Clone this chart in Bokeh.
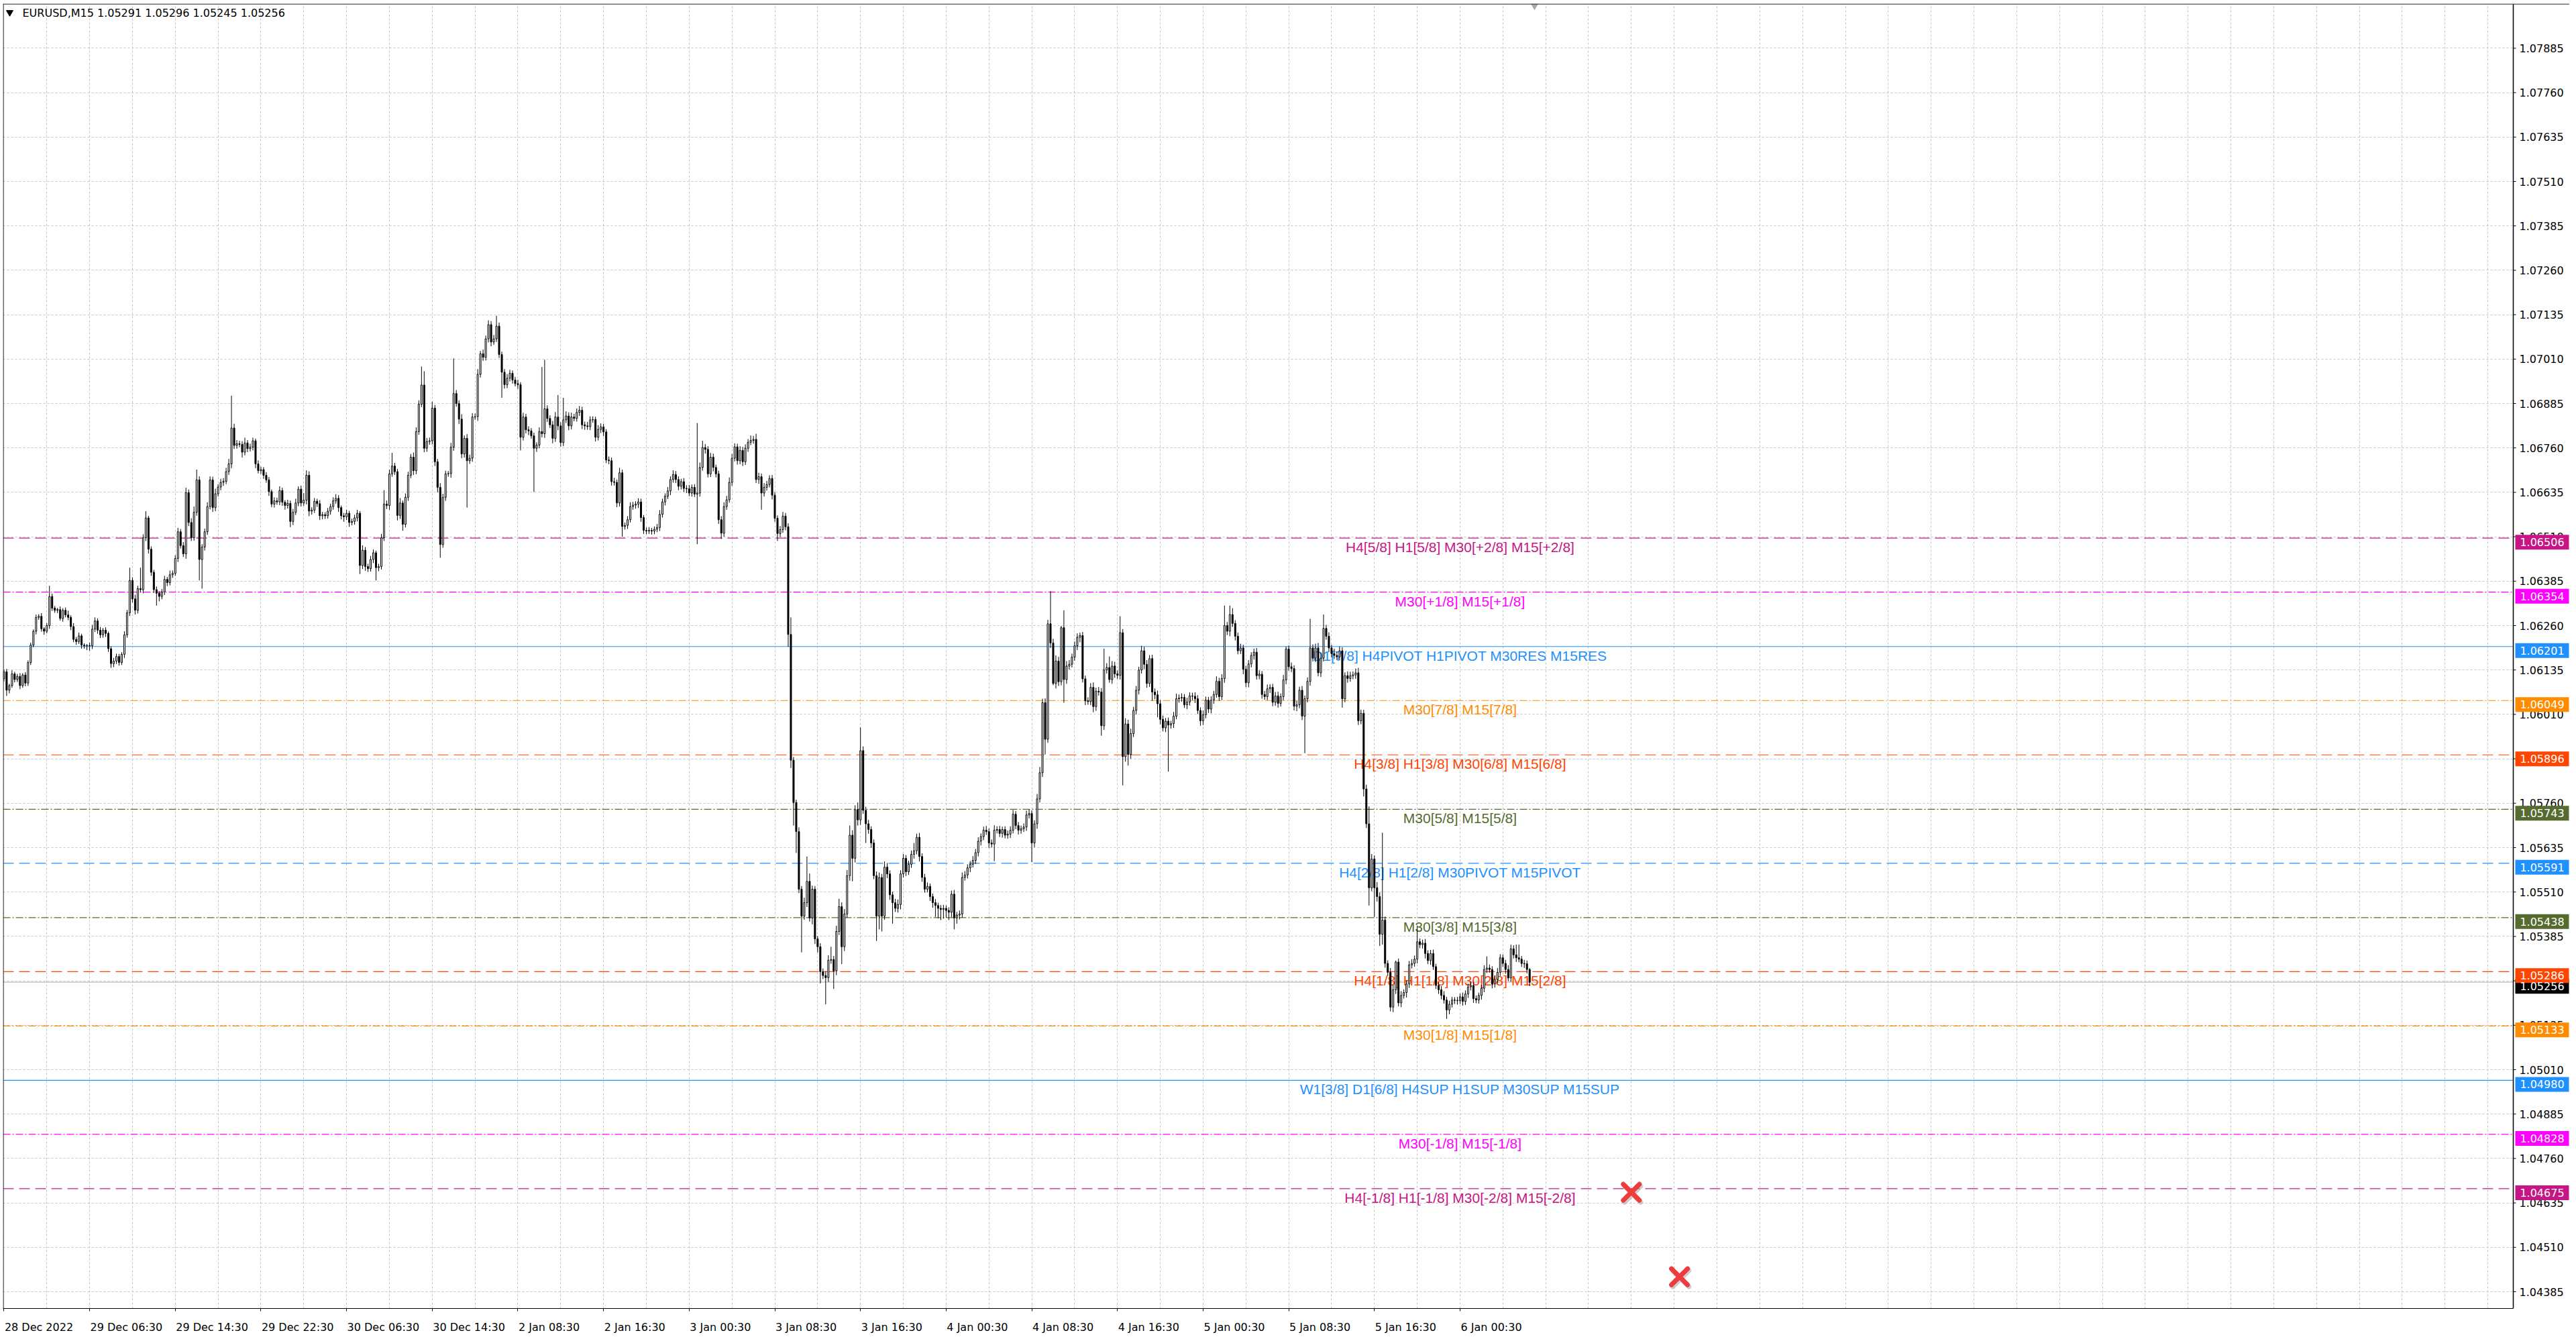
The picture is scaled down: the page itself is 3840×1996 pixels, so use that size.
import numpy as np
from bokeh.plotting import figure
from bokeh.models import ColumnDataSource, Range1d, FixedTicker, Span, Grid
from bokeh.core.properties import value
from bokeh.embed import file_html
from bokeh.resources import INLINE

# ---------------- data ----------------
SYMBOL = "EURUSD,M15"
LAST_OHLC = ["1.05291", "1.05296", "1.05245", "1.05256"]
POINT = 1e-5
BASE = 1.0
FIRST_OPEN = 6110  # points above 1.00000

CLOSE = [
 6130,6078,6091,6124,6108,6117,6091,6121,6098,6156,6205,6244,6283,6286,6251,6244,6260,6342,6309,6303,
 6305,6280,6303,6290,6283,6257,6221,6215,6231,6205,6203,6204,6203,6250,6273,6247,6234,6247,6238,6195,
 6153,6160,6173,6156,6179,6234,6296,6387,6335,6303,6364,6361,6507,6563,6475,6410,6361,6351,6342,6355,
 6390,6381,6403,6407,6449,6524,6485,6462,6634,6550,6507,6579,6670,6446,6481,6524,6595,6670,6592,6631,
 6650,6663,6666,6693,6715,6816,6767,6772,6770,6748,6774,6758,6762,6780,6715,6696,6699,6683,6670,6637,
 6602,6611,6608,6640,6607,6598,6604,6553,6579,6605,6644,6605,6613,6683,6582,6585,6610,6603,6569,6572,
 6569,6582,6595,6611,6618,6592,6569,6566,6576,6550,6553,6563,6576,6429,6472,6426,6420,6446,6465,6423,
 6426,6507,6602,6598,6687,6709,6693,6570,6605,6545,6621,6683,6734,6696,6806,6883,6937,6759,6778,6780,
 6872,6721,6649,6488,6621,6687,6688,6762,6913,6885,6841,6743,6787,6724,6731,6847,6848,6967,7025,7015,
 7067,7107,7058,7067,7103,7023,6973,6938,6956,6970,6951,6941,6938,6790,6847,6811,6808,6794,6759,6768,
 6806,6800,6870,6843,6825,6787,6847,6822,6775,6839,6850,6822,6847,6843,6860,6866,6825,6822,6820,6839,
 6840,6790,6812,6819,6805,6726,6724,6665,6663,6605,6690,6539,6542,6558,6595,6599,6602,6608,6564,6528,
 6526,6528,6526,6531,6536,6573,6608,6624,6639,6671,6685,6671,6652,6665,6646,6645,6633,6649,6630,6633,
 6705,6761,6756,6687,6734,6705,6687,6558,6520,6595,6614,6663,6731,6763,6724,6753,6721,6759,6776,6781,
 6784,6671,6679,6633,6649,6657,6674,6627,6562,6519,6530,6568,6538,6235,5881,5762,5680,5518,5442,5480,
 5540,5437,5518,5378,5356,5286,5275,5269,5318,5320,5288,5399,5469,5356,5448,5556,5670,5605,5742,5713,
 5908,5740,5702,5686,5648,5556,5442,5551,5442,5580,5561,5502,5480,5464,5475,5561,5605,5567,5588,5616,
 5626,5664,5610,5551,5518,5526,5497,5480,5472,5464,5461,5464,5458,5453,5504,5437,5445,5448,5551,5558,
 5578,5588,5599,5621,5653,5666,5684,5680,5648,5645,5684,5686,5675,5686,5670,5673,5684,5729,5697,5684,
 5688,5693,5727,5731,5648,5702,5772,5846,6043,5940,6265,6211,6097,6160,6102,6254,6108,6146,6151,6171,
 6203,6227,6232,6110,6048,6046,6086,6032,6075,6073,5978,6135,6142,6108,6146,6124,6120,6240,5891,5983,
 5897,5956,6021,6078,6135,6189,6151,6097,6167,6073,6065,6040,5996,5972,5991,5980,5984,6005,6054,6056,
 6058,6037,6045,6062,6061,6054,6021,5992,6009,6050,6025,6050,6066,6103,6060,6111,6260,6244,6291,6266,
 6230,6189,6197,6137,6099,6152,6176,6185,6119,6123,6066,6060,6082,6086,6044,6062,6041,6060,6107,6194,
 6144,6139,6033,6037,6078,6005,6054,6103,6197,6168,6197,6127,6168,6252,6230,6197,6181,6176,6172,6189,
 6054,6119,6111,6119,6121,6127,5992,6013,5800,5702,5522,5603,5522,5497,5391,5431,5309,5284,5186,5235,
 5313,5198,5219,5227,5251,5305,5309,5321,5370,5362,5366,5337,5317,5337,5300,5247,5235,5219,5206,5178,
 5194,5206,5205,5204,5215,5202,5223,5243,5247,5210,5206,5219,5239,5292,5296,5292,5251,5264,5284,5325,
 5309,5292,5268,5350,5333,5325,5321,5309,5308,5292,5256,
]

UPPER_WICK = [
 6,8,5,10,6,7,9,5,8,6,7,5,8,6,9,5,7,30,8,6,
 5,9,6,8,12,6,10,7,9,6,5,4,8,12,10,7,9,6,8,5,
 6,9,8,7,6,10,8,36,9,12,8,59,10,19,6,8,7,9,6,8,
 10,7,12,8,9,11,8,10,14,9,12,16,29,10,8,9,12,10,9,14,
 8,10,9,11,14,91,12,10,8,9,15,8,10,9,6,10,8,7,9,8,
 6,10,9,12,8,6,10,8,9,12,8,10,20,14,11,8,9,7,10,8,
 7,9,8,10,12,9,6,8,10,7,8,9,10,6,14,9,8,10,9,6,
 8,11,39,10,12,37,9,8,14,7,11,10,9,13,12,11,52,39,10,9,
 18,9,8,12,10,9,7,12,99,10,9,14,8,12,10,11,9,15,8,12,
 9,12,10,11,29,10,8,9,12,10,8,9,11,7,12,9,10,8,9,8,
 12,182,138,10,9,11,14,62,10,62,13,10,12,9,11,12,10,9,11,10,
 9,8,12,10,9,8,10,9,11,8,14,9,8,10,12,9,8,10,9,7,
 8,9,7,8,10,12,9,8,11,9,12,10,9,8,10,9,11,8,9,197,
 14,19,10,9,12,10,8,9,10,12,11,14,12,10,9,12,10,11,9,14,
 10,16,11,9,12,10,9,10,9,8,10,12,9,10,48,9,8,12,9,14,
 70,22,10,9,8,10,9,12,14,36,10,16,22,12,14,16,27,14,12,20,
 65,12,10,11,9,10,12,14,10,16,12,10,9,11,14,10,12,9,10,11,
 22,10,12,9,10,11,8,9,10,8,9,10,8,9,10,12,9,10,14,11,
 10,9,12,10,11,9,10,12,9,10,14,9,10,8,9,10,11,12,9,10,
 9,10,12,11,9,10,14,16,11,12,11,92,12,16,12,5,49,14,12,10,
 12,11,8,10,9,10,12,14,10,12,11,60,12,31,14,12,10,46,10,16,
 12,14,10,12,9,14,11,12,10,11,10,12,10,11,9,10,8,12,14,10,
 11,9,12,10,9,11,10,9,12,10,9,11,10,14,10,12,56,10,25,18,
 9,10,12,9,10,11,9,10,12,11,9,10,12,9,10,11,12,9,14,7,
 10,12,9,11,10,12,9,11,82,10,12,14,16,39,10,11,9,14,10,12,
 10,9,12,11,10,12,14,10,10,12,49,14,10,16,12,246,10,9,12,14,
 4,10,12,9,10,11,12,10,45,9,10,12,9,10,11,8,9,10,12,9,
 10,9,8,10,9,12,10,9,11,10,9,8,10,12,33,10,9,11,12,10,
 9,10,12,12,10,29,37,9,10,9,4,
]

LOWER_WICK = [
 8,16,9,6,8,7,10,6,9,8,7,6,9,7,8,10,6,9,8,7,
 8,6,9,7,8,10,8,9,7,10,8,12,14,9,8,10,9,8,10,9,
 12,10,8,9,7,10,8,9,10,12,9,8,10,9,12,10,9,35,14,8,
 9,10,8,9,7,10,8,9,14,10,9,8,10,59,82,10,9,8,12,10,
 8,9,10,8,9,12,10,9,8,15,9,10,8,9,12,8,9,10,8,12,
 9,10,8,9,10,12,9,16,10,8,9,10,8,12,14,10,8,9,12,10,
 9,8,10,9,8,12,10,14,9,12,8,9,10,24,10,12,9,8,10,36,
 10,8,9,10,12,8,9,14,10,18,9,10,8,12,10,9,8,11,10,9,
 10,12,14,37,9,10,8,12,10,9,14,12,10,132,9,10,8,12,9,10,
 9,10,12,8,9,10,72,11,10,9,10,8,12,37,9,10,12,8,123,10,
 9,10,12,10,9,14,10,12,11,10,9,12,10,8,9,10,12,11,9,10,
 8,12,9,10,12,9,10,11,9,12,10,29,9,10,8,9,10,11,12,10,
 9,8,10,9,8,10,9,10,8,12,9,10,11,9,10,12,9,10,8,141,
 10,9,12,10,9,11,10,12,16,10,9,8,10,9,11,10,12,9,10,8,
 9,10,12,47,10,9,8,12,10,21,10,9,10,35,22,65,60,11,102,10,
 12,10,18,14,16,33,10,75,12,10,51,12,10,49,12,10,14,65,12,16,
 14,10,54,12,14,10,70,37,43,10,12,14,59,10,12,14,10,12,9,10,
 12,10,14,12,10,9,12,14,32,28,30,26,20,22,14,32,16,12,10,9,
 10,12,9,10,11,12,10,9,14,10,48,9,10,12,9,10,11,9,10,12,
 10,9,11,10,54,12,14,10,12,43,10,14,5,14,12,10,65,12,10,9,
 10,12,14,10,12,9,10,16,12,10,28,12,10,9,12,11,10,12,81,14,
 31,12,10,11,12,10,14,12,10,25,12,38,14,10,12,131,10,12,9,11,
 10,9,12,10,11,12,10,14,12,10,11,12,10,9,12,10,12,11,14,10,
 12,10,9,14,12,13,10,12,11,10,12,9,10,12,11,10,12,9,10,12,
 11,10,12,14,10,11,104,10,12,9,11,10,12,9,10,12,11,10,9,10,
 25,10,12,9,10,11,12,10,21,12,50,10,82,14,33,29,12,10,12,14,
 12,10,12,9,14,11,10,9,12,10,11,14,10,12,9,10,12,11,10,25,
 12,9,10,11,9,12,10,11,10,12,9,10,12,11,10,9,12,10,11,10,
 10,12,9,11,10,12,9,10,12,11,11,
]

X_TICK_BARS = [0, 32, 64, 96, 128, 160, 192, 224, 256, 288, 320, 352, 384, 416, 448, 480, 512, 544]
X_TICK_LABELS = ["28 Dec 2022", "29 Dec 06:30", "29 Dec 14:30", "29 Dec 22:30", "30 Dec 06:30",
                 "30 Dec 14:30", "2 Jan 08:30", "2 Jan 16:30", "3 Jan 00:30", "3 Jan 08:30",
                 "3 Jan 16:30", "4 Jan 00:30", "4 Jan 08:30", "4 Jan 16:30", "5 Jan 00:30",
                 "5 Jan 08:30", "5 Jan 16:30", "6 Jan 00:30"]

Y_TICKS = [1.07885, 1.07760, 1.07635, 1.07510, 1.07385, 1.07260, 1.07135, 1.07010, 1.06885,
           1.06760, 1.06635, 1.06510, 1.06385, 1.06260, 1.06135, 1.06010, 1.05885, 1.05760,
           1.05635, 1.05510, 1.05385, 1.05260, 1.05135, 1.05010, 1.04885, 1.04760, 1.04635,
           1.04510, 1.04385]

LEVEL_PRICES = [1.06506, 1.06354, 1.06201, 1.06049, 1.05896, 1.05743, 1.05591,
                1.05438, 1.05286, 1.05133, 1.04980, 1.04828, 1.04675]
LEVEL_TEXTS = ["H4[5/8] H1[5/8] M30[+2/8] M15[+2/8]",
               "M30[+1/8] M15[+1/8]",
               "D1[7/8] H4PIVOT H1PIVOT M30RES M15RES",
               "M30[7/8] M15[7/8]",
               "H4[3/8] H1[3/8] M30[6/8] M15[6/8]",
               "M30[5/8] M15[5/8]",
               "H4[2/8] H1[2/8] M30PIVOT M15PIVOT",
               "M30[3/8] M15[3/8]",
               "H4[1/8] H1[1/8] M30[2/8] M15[2/8]",
               "M30[1/8] M15[1/8]",
               "W1[3/8] D1[6/8] H4SUP H1SUP M30SUP M15SUP",
               "M30[-1/8] M15[-1/8]",
               "H4[-1/8] H1[-1/8] M30[-2/8] M15[-2/8]"]
LEVEL_COLORS = ["#C71585", "#FF00FF", "#1E90FF", "#FF8C00", "#FF4500", "#556B2F", "#1E90FF",
                "#556B2F", "#FF4500", "#FF8C00", "#1E90FF", "#FF00FF", "#C71585"]
LEVEL_STYLES = ["dash", "dashdot", "solid", "dashdot", "dash", "dashdot", "dash",
                "dashdot", "dash", "dashdot", "solid", "dashdot", "dash"]
LEVEL_TEXT_BAR = 544

BID = 1.05256
STOP_BARS = [608, 626]
STOP_PRICES = [1.04665, 1.04427]

# ---------------- geometry (page pixels) ----------------
FRAME_LEFT, FRAME_TOP = 4, 5
FRAME_W, FRAME_H = 3826, 1945
AXIS_X = 3746              # right price scale border
PPB = 3.99                 # pixels per bar
PPY = 52960.0              # pixels per price unit
X_START = -0.35
X_END = X_START + FRAME_W / PPB
Y_TOP = 1.07885 + (71.4 - FRAME_TOP) / PPY
Y_BOT = Y_TOP - FRAME_H / PPY

def sx(page_x):
    return X_START + (page_x - FRAME_LEFT) / PPB

def sy(page_y):
    return Y_TOP - (page_y - FRAME_TOP) / PPY

# ---------------- OHLC ----------------
n = min(len(CLOSE), len(UPPER_WICK), len(LOWER_WICK))
c_pts = np.array(CLOSE[:n], dtype=float)
o_pts = np.concatenate([[FIRST_OPEN], c_pts[:-1]])
top_pts = np.maximum(o_pts, c_pts)
bot_pts = np.minimum(o_pts, c_pts)
hi_pts = top_pts + np.array(UPPER_WICK[:n], dtype=float)
lo_pts = bot_pts - np.array(LOWER_WICK[:n], dtype=float)
idx = np.arange(n)
bull = c_pts >= o_pts

src = ColumnDataSource(dict(
    x=idx,
    top=BASE + top_pts * POINT,
    bot=BASE + bot_pts * POINT,
    hi=BASE + hi_pts * POINT,
    lo=BASE + lo_pts * POINT,
    fill=["white" if b else "black" for b in bull],
))

p = figure(frame_width=FRAME_W, frame_height=FRAME_H,
           x_range=Range1d(X_START, X_END), y_range=Range1d(Y_BOT, Y_TOP),
           y_axis_location=None, toolbar_location=None, output_backend="svg",
           min_border_left=FRAME_LEFT, min_border_top=FRAME_TOP, min_border_right=0,
           min_border_bottom=10,
           background_fill_color="white", border_fill_color="white")
p.outline_line_color = None

# ---- bottom time axis: small tick at the bar, label starting at the tick ----
CHAR_W = {"0": .636, "1": .636, "2": .636, "3": .636, "4": .636, "5": .636, "6": .636,
          "7": .636, "8": .636, "9": .636, " ": .318, ":": .337, "D": .770, "e": .615,
          "c": .550, "J": .295, "a": .613, "n": .634}
LBL_PX = 16
label_pos = []
for b, lab in zip(X_TICK_BARS, X_TICK_LABELS):
    w = sum(CHAR_W.get(ch, .6) for ch in lab) * LBL_PX
    label_pos.append(round(b + (w / 2 + 1) / PPB, 3))

ax = p.xaxis[0]
ax.ticker = FixedTicker(ticks=label_pos, minor_ticks=X_TICK_BARS)
ax.major_label_overrides = {s: l for s, l in zip(label_pos, X_TICK_LABELS)}
ax.bounds = (X_START, sx(AXIS_X))
ax.axis_line_color = "black"
ax.major_tick_line_color = None
ax.major_tick_out = 0
ax.major_tick_in = 0
ax.minor_tick_line_color = "black"
ax.minor_tick_out = 4
ax.minor_tick_in = 0
ax.major_label_standoff = 14
ax.major_label_text_font = "DejaVu Sans"
ax.major_label_text_font_size = "16px"
ax.major_label_text_color = "black"

# ---- grids ----
p.xgrid.ticker = FixedTicker(ticks=list(range(0, int(X_END) + 1, 16)))
ygrids = p.ygrid
if len(ygrids) == 0:
    p.add_layout(Grid(dimension=1, ticker=FixedTicker(ticks=Y_TICKS)), "center")
else:
    ygrids.ticker = FixedTicker(ticks=Y_TICKS)
for g in list(p.xgrid) + list(p.ygrid):
    g.grid_line_color = "#C4C4C4"
    g.grid_line_dash = "3 3"
    g.grid_line_width = 1

# ---- level lines ----
dash_map = {"dash": "16 8", "dashdot": "11 3 2 3", "solid": "solid"}
for price, col, sty in zip(LEVEL_PRICES, LEVEL_COLORS, LEVEL_STYLES):
    p.add_layout(Span(location=price, dimension="width", line_color=col,
                      line_dash=dash_map[sty], line_width=1.2, level="underlay"))
p.add_layout(Span(location=BID, dimension="width", line_color="#BEBEBE",
                  line_width=1.2, level="underlay"))

# ---- level texts ----
lvl = ColumnDataSource(dict(x=[LEVEL_TEXT_BAR] * len(LEVEL_PRICES), y=LEVEL_PRICES,
                            t=LEVEL_TEXTS, c=LEVEL_COLORS))
p.text(x="x", y="y", text="t", text_color="c", source=lvl, text_align="center",
       text_baseline="top", y_offset=2, text_font=value("Liberation Sans"),
       text_font_size="21px")

# ---- candles ----
p.segment(x0="x", x1="x", y0="lo", y1="hi", line_color="black", line_width=1, source=src)
p.vbar(x="x", width=0.5, top="top", bottom="bot", fill_color="fill",
       line_color="black", line_width=1, source=src)

# ---- stop markers (red crosses) with soft shadow ----
p.scatter(x=[b + 2 / PPB for b in STOP_BARS], y=[v - 3 / PPY for v in STOP_PRICES],
          marker="x", size=34, line_width=7, line_color="#9E9E9E", line_alpha=0.5,
          line_cap="round")
p.scatter(x=STOP_BARS, y=STOP_PRICES, marker="x", size=34, line_width=7,
          line_color="#EE3B3B", line_cap="round")

# ---- header ----
p.scatter(x=[sx(14)], y=[sy(18)], marker="inverted_triangle", size=10,
          fill_color="black", line_color="black")
p.text(x=[sx(33)], y=[sy(19)], text=[SYMBOL + "  " + " ".join(LAST_OHLC)],
       text_align="left", text_baseline="middle", text_font=value("DejaVu Sans"),
       text_font_size="16px", text_color="black")
p.scatter(x=[sx(2287)], y=[sy(7)], marker="inverted_triangle", size=12,
          fill_color="#A9A9A9", line_color="#A9A9A9")

# ---- price scale on the right ----
p.quad(left=[sx(AXIS_X)], right=[X_END], bottom=[Y_BOT], top=[Y_TOP],
       fill_color="white", line_color=None)
p.segment(x0=[sx(AXIS_X)], x1=[sx(AXIS_X)], y0=[Y_BOT], y1=[Y_TOP],
          line_color="black", line_width=1.5)
p.segment(x0=[sx(FRAME_LEFT + 0.5)], x1=[sx(FRAME_LEFT + 0.5)], y0=[Y_BOT], y1=[Y_TOP],
          line_color="#404040", line_width=1.5)
p.segment(x0=[X_START], x1=[X_END], y0=[sy(FRAME_TOP + 0.5)], y1=[sy(FRAME_TOP + 0.5)],
          line_color="#404040", line_width=1.5)
p.segment(x0=[sx(AXIS_X)] * len(Y_TICKS), x1=[sx(AXIS_X + 4)] * len(Y_TICKS),
          y0=Y_TICKS, y1=Y_TICKS, line_color="black", line_width=1)
p.text(x=[sx(AXIS_X + 9)] * len(Y_TICKS), y=Y_TICKS, text=[f"{t:.5f}" for t in Y_TICKS],
       text_align="left", text_baseline="middle", text_font=value("DejaVu Sans"),
       text_font_size="16px", text_color="black")

box_prices = [BID] + LEVEL_PRICES
box_colors = ["black"] + LEVEL_COLORS
box_y = [v - 6 / PPY for v in box_prices]
p.rect(x=[sx(3789)] * len(box_prices), y=box_y, width=80 / PPB, height=22 / PPY,
       fill_color=box_colors, line_color=None)
p.text(x=[sx(3789)] * len(box_prices), y=box_y, text=[f"{v:.5f}" for v in box_prices],
       text_align="center", text_baseline="middle", text_font=value("DejaVu Sans"),
       text_font_size="16px", text_color="white")

open("out.html", "w").write(file_html(p, INLINE))
